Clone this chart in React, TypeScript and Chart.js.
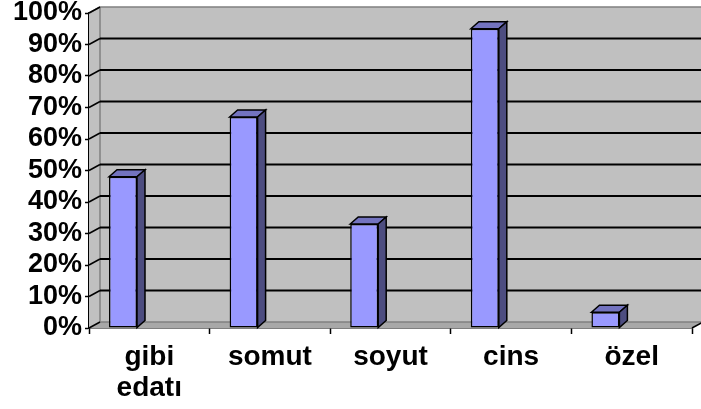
import React, { useEffect, useRef } from "react";
import { Chart, registerables } from "chart.js";

Chart.register(...registerables);

// ---- data ----
const categories: (string | string[])[] = [["gibi", "edatı"], "somut", "soyut", "cins", "özel"];
const values: number[] = [48, 67, 33, 95, 5];
const yMin = 0;
const yMax = 100;
const yStep = 10;

// ---- style ----
const FONT = "'Liberation Sans', Arial, sans-serif";
const WALL = "#c0c0c0";
const WALL_EDGE = "#808080";
const FLOOR = "#a8a8a8";
const BAR_FRONT = "#9999ff";
const BAR_TOP = "#7373bf";
const BAR_SIDE = "#4d4d80";
const WDX = 11;
const WDY = -6;
const BDX = 8;
const BDY = -7;

const wallPlugin = {
  id: "wall3d",
  beforeDatasetsDraw(chart: any) {
    const { ctx, chartArea: a, scales } = chart;
    const y = scales.y;
    ctx.save();
    ctx.fillStyle = WALL;
    ctx.fillRect(a.left + WDX, a.top + WDY, a.right - a.left, a.bottom - a.top);
    ctx.beginPath();
    ctx.moveTo(a.left, a.top);
    ctx.lineTo(a.left + WDX, a.top + WDY);
    ctx.lineTo(a.left + WDX, a.bottom + WDY);
    ctx.lineTo(a.left, a.bottom);
    ctx.closePath();
    ctx.fillStyle = WALL;
    ctx.fill();
    ctx.beginPath();
    ctx.moveTo(a.left, a.bottom);
    ctx.lineTo(a.left + WDX, a.bottom + WDY);
    ctx.lineTo(a.right + WDX, a.bottom + WDY);
    ctx.lineTo(a.right, a.bottom);
    ctx.closePath();
    ctx.fillStyle = FLOOR;
    ctx.fill();
    ctx.strokeStyle = WALL_EDGE;
    ctx.lineWidth = 1.5;
    ctx.beginPath();
    ctx.moveTo(a.left, a.top);
    ctx.lineTo(a.left + WDX, a.top + WDY);
    ctx.lineTo(a.right + WDX, a.top + WDY);
    ctx.lineTo(a.right + WDX, a.bottom + WDY);
    ctx.moveTo(a.left + WDX, a.top + WDY);
    ctx.lineTo(a.left + WDX, a.bottom + WDY);
    ctx.lineTo(a.right + WDX, a.bottom + WDY);
    ctx.stroke();
    ctx.strokeStyle = "#000";
    for (let v = yMin; v <= yMax; v += yStep) {
      const py = y.getPixelForValue(v);
      if (v > yMin && v < yMax) {
        ctx.lineWidth = 2;
        ctx.beginPath();
        ctx.moveTo(a.left + WDX, py + WDY);
        ctx.lineTo(a.right + WDX, py + WDY);
        ctx.stroke();
      }
      ctx.lineWidth = 1.5;
      ctx.beginPath();
      ctx.moveTo(a.left, py);
      ctx.lineTo(a.left + WDX, py + WDY);
      ctx.stroke();
    }
    ctx.beginPath();
    ctx.moveTo(a.right, a.bottom);
    ctx.lineTo(a.right + WDX, a.bottom + WDY);
    ctx.stroke();
    ctx.restore();
  },
  afterDatasetsDraw(chart: any) {
    const { ctx } = chart;
    const meta = chart.getDatasetMeta(0);
    ctx.save();
    ctx.strokeStyle = "#000";
    ctx.lineWidth = 1.5;
    meta.data.forEach((el: any) => {
      const { x, y, base, width } = el.getProps(["x", "y", "base", "width"], true);
      const l = x - width / 2;
      const r = x + width / 2;
      ctx.beginPath();
      ctx.moveTo(l, y);
      ctx.lineTo(l + BDX, y + BDY);
      ctx.lineTo(r + BDX, y + BDY);
      ctx.lineTo(r, y);
      ctx.closePath();
      ctx.fillStyle = BAR_TOP;
      ctx.fill();
      ctx.stroke();
      ctx.beginPath();
      ctx.moveTo(r, y);
      ctx.lineTo(r + BDX, y + BDY);
      ctx.lineTo(r + BDX, base + BDY);
      ctx.lineTo(r, base);
      ctx.closePath();
      ctx.fillStyle = BAR_SIDE;
      ctx.fill();
      ctx.stroke();
    });
    ctx.restore();
  },
};

export default function App() {
  const ref = useRef<HTMLCanvasElement | null>(null);
  useEffect(() => {
    if (!ref.current) return;
    const chart = new Chart(ref.current, {
      type: "bar",
      data: {
        labels: categories as any,
        datasets: [
          {
            data: values,
            backgroundColor: BAR_FRONT,
            borderColor: "#000",
            borderWidth: 1.5,
            borderSkipped: false,
          },
          {
            data: values.map(() => null),
            backgroundColor: "transparent",
          },
        ],
      },
      options: {
        responsive: false,
        animation: false,
        categoryPercentage: 0.872,
        barPercentage: 0.532,
        layout: { padding: { left: 0, right: 9, top: 13, bottom: 0 } },
        plugins: { legend: { display: false }, tooltip: { enabled: false } },
        scales: {
          x: {
            type: "category",
            offset: true,
            grid: {
              display: true,
              drawOnChartArea: false,
              drawTicks: true,
              tickLength: 6,
              tickWidth: 1.5,
              color: "#000",
              offset: true,
            },
            border: { display: true, color: "#000", width: 1.5 },
            ticks: {
              color: "#000",
              font: { family: FONT, size: 28, weight: "bold", lineHeight: 1.1 },
              padding: 8,
              maxRotation: 0,
              autoSkip: false,
            },
            afterFit: (s: any) => {
              s.height = 81;
              s.paddingLeft = 0;
              s.paddingRight = 0;
            },
          },
          y: {
            min: yMin,
            max: yMax,
            grid: {
              display: true,
              drawOnChartArea: false,
              drawTicks: true,
              tickLength: 4,
              tickWidth: 1.5,
              color: "#000",
            },
            border: { display: true, color: "#000", width: 1.5 },
            ticks: {
              stepSize: yStep,
              autoSkip: false,
              color: "#000",
              padding: 3,
              font: { family: FONT, size: 27, weight: "bold" },
              callback: (v: any) => v + "%",
            },
            afterFit: (s: any) => {
              s.width = 89;
              s.paddingTop = 0;
              s.paddingBottom = 0;
            },
          },
        },
      } as any,
      plugins: [wallPlugin],
    });
    return () => chart.destroy();
  }, []);
  return (
    <div style={{ position: "absolute", left: 0, top: 0, width: 701, height: 409, background: "#fff" }}>
      <canvas ref={ref} width={701} height={409} style={{ display: "block" }} />
    </div>
  );
}
